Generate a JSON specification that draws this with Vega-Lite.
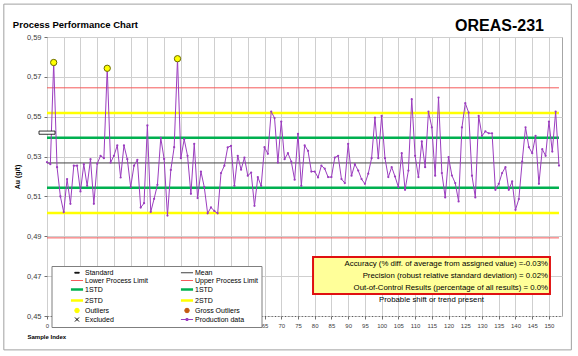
{
  "$schema": "https://vega.github.io/schema/vega-lite/v6.json",
  "width": 515,
  "height": 279,
  "autosize": {"type": "none"},
  "padding": {"left": 47, "top": 37, "right": 16, "bottom": 40},
  "background": "#ffffff",
  "config": {
    "font": "Liberation Sans",
    "view": {"stroke": "#a6a6a6", "strokeWidth": 1},
    "axis": {"grid": true, "gridColor": "#cfcfcf", "tickColor": "#707070", "tickSize": 3, "labelColor": "#404040", "labelPadding": 3, "labelOverlap": false, "labelFlush": false, "titleFontWeight": "bold", "titleColor": "#000000"},
    "axisX": {"labelFontSize": 6, "domainColor": "#555555", "domainDash": [1, 2.346], "titleFontSize": 6, "titleAlign": "left", "titleX": -20, "titleY": 17},
    "axisY": {"labelFontSize": 7.5, "domain": false, "titleFontSize": 7, "titleX": -27}
  },
  "datasets": {
    "samples": [
      {"sample": 0, "au": 0.5272, "status": "In"},
      {"sample": 1, "au": 0.5262, "status": "In"},
      {"sample": 2, "au": 0.5772, "status": "Outlier"},
      {"sample": 3, "au": 0.5247, "status": "In"},
      {"sample": 4, "au": 0.5100, "status": "In"},
      {"sample": 5, "au": 0.5021, "status": "In"},
      {"sample": 6, "au": 0.5187, "status": "In"},
      {"sample": 7, "au": 0.5063, "status": "In"},
      {"sample": 8, "au": 0.5254, "status": "In"},
      {"sample": 9, "au": 0.5254, "status": "In"},
      {"sample": 10, "au": 0.5125, "status": "In"},
      {"sample": 11, "au": 0.5262, "status": "In"},
      {"sample": 12, "au": 0.5153, "status": "In"},
      {"sample": 13, "au": 0.5287, "status": "In"},
      {"sample": 14, "au": 0.5063, "status": "In"},
      {"sample": 15, "au": 0.5264, "status": "In"},
      {"sample": 16, "au": 0.5304, "status": "In"},
      {"sample": 17, "au": 0.5292, "status": "In"},
      {"sample": 18, "au": 0.5743, "status": "Outlier"},
      {"sample": 19, "au": 0.5270, "status": "In"},
      {"sample": 20, "au": 0.5304, "status": "In"},
      {"sample": 21, "au": 0.5356, "status": "In"},
      {"sample": 22, "au": 0.5195, "status": "In"},
      {"sample": 23, "au": 0.5356, "status": "In"},
      {"sample": 24, "au": 0.5287, "status": "In"},
      {"sample": 25, "au": 0.5147, "status": "In"},
      {"sample": 26, "au": 0.5254, "status": "In"},
      {"sample": 27, "au": 0.5284, "status": "In"},
      {"sample": 28, "au": 0.5044, "status": "In"},
      {"sample": 29, "au": 0.5066, "status": "In"},
      {"sample": 30, "au": 0.5456, "status": "In"},
      {"sample": 31, "au": 0.5022, "status": "In"},
      {"sample": 32, "au": 0.5088, "status": "In"},
      {"sample": 33, "au": 0.5158, "status": "In"},
      {"sample": 34, "au": 0.5394, "status": "In"},
      {"sample": 35, "au": 0.5288, "status": "In"},
      {"sample": 36, "au": 0.5004, "status": "In"},
      {"sample": 37, "au": 0.5233, "status": "In"},
      {"sample": 38, "au": 0.5347, "status": "In"},
      {"sample": 39, "au": 0.5791, "status": "Outlier"},
      {"sample": 40, "au": 0.5292, "status": "In"},
      {"sample": 41, "au": 0.5387, "status": "In"},
      {"sample": 42, "au": 0.5304, "status": "In"},
      {"sample": 43, "au": 0.5113, "status": "In"},
      {"sample": 44, "au": 0.5364, "status": "In"},
      {"sample": 45, "au": 0.5092, "status": "In"},
      {"sample": 46, "au": 0.5225, "status": "In"},
      {"sample": 47, "au": 0.5147, "status": "In"},
      {"sample": 48, "au": 0.5015, "status": "In"},
      {"sample": 49, "au": 0.5045, "status": "In"},
      {"sample": 50, "au": 0.5027, "status": "In"},
      {"sample": 51, "au": 0.5015, "status": "In"},
      {"sample": 52, "au": 0.5217, "status": "In"},
      {"sample": 53, "au": 0.5254, "status": "In"},
      {"sample": 54, "au": 0.5346, "status": "In"},
      {"sample": 55, "au": 0.5354, "status": "In"},
      {"sample": 56, "au": 0.5153, "status": "In"},
      {"sample": 57, "au": 0.5304, "status": "In"},
      {"sample": 58, "au": 0.5234, "status": "In"},
      {"sample": 59, "au": 0.5295, "status": "In"},
      {"sample": 60, "au": 0.5204, "status": "In"},
      {"sample": 61, "au": 0.5220, "status": "In"},
      {"sample": 62, "au": 0.5053, "status": "In"},
      {"sample": 63, "au": 0.5197, "status": "In"},
      {"sample": 64, "au": 0.5153, "status": "In"},
      {"sample": 65, "au": 0.5347, "status": "In"},
      {"sample": 66, "au": 0.5314, "status": "In"},
      {"sample": 67, "au": 0.5526, "status": "In"},
      {"sample": 68, "au": 0.5493, "status": "In"},
      {"sample": 69, "au": 0.5270, "status": "In"},
      {"sample": 70, "au": 0.5476, "status": "In"},
      {"sample": 71, "au": 0.5287, "status": "In"},
      {"sample": 72, "au": 0.5317, "status": "In"},
      {"sample": 73, "au": 0.5275, "status": "In"},
      {"sample": 74, "au": 0.5184, "status": "In"},
      {"sample": 75, "au": 0.5414, "status": "In"},
      {"sample": 76, "au": 0.5153, "status": "In"},
      {"sample": 77, "au": 0.5356, "status": "In"},
      {"sample": 78, "au": 0.5329, "status": "In"},
      {"sample": 79, "au": 0.5225, "status": "In"},
      {"sample": 80, "au": 0.5225, "status": "In"},
      {"sample": 81, "au": 0.5195, "status": "In"},
      {"sample": 82, "au": 0.5255, "status": "In"},
      {"sample": 83, "au": 0.5239, "status": "In"},
      {"sample": 84, "au": 0.5197, "status": "In"},
      {"sample": 85, "au": 0.5197, "status": "In"},
      {"sample": 86, "au": 0.5295, "status": "In"},
      {"sample": 87, "au": 0.5304, "status": "In"},
      {"sample": 88, "au": 0.5187, "status": "In"},
      {"sample": 89, "au": 0.5167, "status": "In"},
      {"sample": 90, "au": 0.5364, "status": "In"},
      {"sample": 91, "au": 0.5204, "status": "In"},
      {"sample": 92, "au": 0.5262, "status": "In"},
      {"sample": 93, "au": 0.5230, "status": "In"},
      {"sample": 94, "au": 0.5187, "status": "In"},
      {"sample": 95, "au": 0.5163, "status": "In"},
      {"sample": 96, "au": 0.5214, "status": "In"},
      {"sample": 97, "au": 0.5292, "status": "In"},
      {"sample": 98, "au": 0.5496, "status": "In"},
      {"sample": 99, "au": 0.5292, "status": "In"},
      {"sample": 100, "au": 0.5504, "status": "In"},
      {"sample": 101, "au": 0.5292, "status": "In"},
      {"sample": 102, "au": 0.5197, "status": "In"},
      {"sample": 103, "au": 0.5247, "status": "In"},
      {"sample": 104, "au": 0.5200, "status": "In"},
      {"sample": 105, "au": 0.5147, "status": "In"},
      {"sample": 106, "au": 0.5317, "status": "In"},
      {"sample": 107, "au": 0.5133, "status": "In"},
      {"sample": 108, "au": 0.5230, "status": "In"},
      {"sample": 109, "au": 0.5588, "status": "In"},
      {"sample": 110, "au": 0.5304, "status": "In"},
      {"sample": 111, "au": 0.5197, "status": "In"},
      {"sample": 112, "au": 0.5376, "status": "In"},
      {"sample": 113, "au": 0.5247, "status": "In"},
      {"sample": 114, "au": 0.5526, "status": "In"},
      {"sample": 115, "au": 0.5447, "status": "In"},
      {"sample": 116, "au": 0.5204, "status": "In"},
      {"sample": 117, "au": 0.5596, "status": "In"},
      {"sample": 118, "au": 0.5217, "status": "In"},
      {"sample": 119, "au": 0.5095, "status": "In"},
      {"sample": 120, "au": 0.5297, "status": "In"},
      {"sample": 121, "au": 0.5205, "status": "In"},
      {"sample": 122, "au": 0.5167, "status": "In"},
      {"sample": 123, "au": 0.5075, "status": "In"},
      {"sample": 124, "au": 0.5446, "status": "In"},
      {"sample": 125, "au": 0.5568, "status": "In"},
      {"sample": 126, "au": 0.5521, "status": "In"},
      {"sample": 127, "au": 0.5204, "status": "In"},
      {"sample": 128, "au": 0.5095, "status": "In"},
      {"sample": 129, "au": 0.5504, "status": "In"},
      {"sample": 130, "au": 0.5404, "status": "In"},
      {"sample": 131, "au": 0.5426, "status": "In"},
      {"sample": 132, "au": 0.5417, "status": "In"},
      {"sample": 133, "au": 0.5417, "status": "In"},
      {"sample": 134, "au": 0.5133, "status": "In"},
      {"sample": 135, "au": 0.5163, "status": "In"},
      {"sample": 136, "au": 0.5217, "status": "In"},
      {"sample": 137, "au": 0.5247, "status": "In"},
      {"sample": 138, "au": 0.5133, "status": "In"},
      {"sample": 139, "au": 0.5175, "status": "In"},
      {"sample": 140, "au": 0.5033, "status": "In"},
      {"sample": 141, "au": 0.5087, "status": "In"},
      {"sample": 142, "au": 0.5275, "status": "In"},
      {"sample": 143, "au": 0.5447, "status": "In"},
      {"sample": 144, "au": 0.5347, "status": "In"},
      {"sample": 145, "au": 0.5317, "status": "In"},
      {"sample": 146, "au": 0.5404, "status": "In"},
      {"sample": 147, "au": 0.5163, "status": "In"},
      {"sample": 148, "au": 0.5337, "status": "In"},
      {"sample": 149, "au": 0.5304, "status": "In"},
      {"sample": 150, "au": 0.5476, "status": "In"},
      {"sample": 151, "au": 0.5325, "status": "In"},
      {"sample": 152, "au": 0.5526, "status": "In"},
      {"sample": 153, "au": 0.5255, "status": "In"}
    ],
    "limits": [
      {"series": "Upper Process Limit", "value": 0.5645},
      {"series": "2STD_hi", "value": 0.5519},
      {"series": "1STD_hi", "value": 0.5394},
      {"series": "Mean", "value": 0.5268},
      {"series": "1STD_lo", "value": 0.5143},
      {"series": "2STD_lo", "value": 0.5017},
      {"series": "Lower Process Limit", "value": 0.4892},
      {"series": "Standard", "value": 0.542}
    ]
  },
  "layer": [
    {
      "data": {"name": "limits"},
      "transform": [{"filter": "datum.series !== 'Standard'"}],
      "mark": {"type": "rule"},
      "encoding": {
        "x": {"datum": 0, "type": "quantitative", "scale": {"domain": [0, 153.9], "nice": false, "zero": false},
          "axis": {"values": [0,5,10,15,20,25,30,35,40,45,50,55,60,65,70,75,80,85,90,95,100,105,110,115,120,125,130,135,140,145,150], "format": "d", "title": "Sample Index"}},
        "x2": {"datum": 153},
        "y": {"field": "value", "type": "quantitative", "scale": {"domain": [0.45, 0.59], "nice": false, "zero": false},
          "axis": {"values": [0.45, 0.47, 0.49, 0.51, 0.53, 0.55, 0.57, 0.59], "labelExpr": "replace(format(datum.value, '.2f'), '.', ',')", "title": "Au (g/t)"}},
        "strokeWidth": {
          "field": "series",
          "type": "nominal",
          "scale": {
            "type": "ordinal",
            "domain": ["Standard", "Lower Process Limit", "1STD_lo", "2STD_lo", "Outliers", "Excluded", "Mean", "Upper Process Limit", "1STD_hi", "2STD_hi", "Gross Outliers", "Production data"],
            "range": [0.8, 1, 2.5, 2.5, 1, 1, 1, 1, 2.5, 2.5, 1, 1]
          }
        },
        "color": {
          "field": "series",
          "type": "nominal",
          "scale": {
            "domain": ["Standard", "Lower Process Limit", "1STD_lo", "2STD_lo", "Outliers", "Excluded", "Mean", "Upper Process Limit", "1STD_hi", "2STD_hi", "Gross Outliers", "Production data"],
            "range": ["#000000", "#f55a5a", "#00b050", "#ffff00", "#ffff00", "#000000", "#404040", "#f55a5a", "#00b050", "#ffff00", "#c55a11", "#9b3dbf"]
          },
          "legend": {
            "orient": "none",
            "legendX": 4.5,
            "legendY": 229,
            "columns": 2,
            "title": null,
            "strokeColor": "#7f7f7f",
            "fillColor": "#ffffff",
            "padding": 3,
            "labelFontSize": 7,
            "labelFont": "Liberation Sans",
            "labelColor": "#000000",
            "symbolSize": 20.25,
            "symbolOffset": 19,
            "labelOffset": 4.5,
            "columnPadding": 16,
            "rowPadding": 0,
            "labelExpr": "indexof(datum.label, '_') > 0 ? slice(datum.label, 0, indexof(datum.label, '_')) : datum.label"
          }
        }
      }
    },
    {
      "data": {"name": "samples"},
      "mark": {"type": "line", "strokeWidth": 1, "point": {"filled": true, "size": 5}},
      "encoding": {
        "x": {"field": "sample", "type": "quantitative",
          "axis": {"values": [0,5,10,15,20,25,30,35,40,45,50,55,60,65,70,75,80,85,90,95,100,105,110,115,120,125,130,135,140,145,150], "format": "d", "title": "Sample Index"}},
        "y": {"field": "au", "type": "quantitative",
          "axis": {"values": [0.45, 0.47, 0.49, 0.51, 0.53, 0.55, 0.57, 0.59], "labelExpr": "replace(format(datum.value, '.2f'), '.', ',')", "title": "Au (g/t)"}},
        "color": {"datum": "Production data", "type": "nominal", "legend": null}
      }
    },
    {
      "data": {"name": "samples"},
      "transform": [{"filter": "datum.status === 'Outlier'"}],
      "mark": {"type": "point", "filled": true, "size": 40, "stroke": "#6b6b00", "strokeWidth": 1, "opacity": 1},
      "encoding": {
        "x": {"field": "sample", "type": "quantitative",
          "axis": {"values": [0,5,10,15,20,25,30,35,40,45,50,55,60,65,70,75,80,85,90,95,100,105,110,115,120,125,130,135,140,145,150], "format": "d", "title": "Sample Index"}},
        "y": {"field": "au", "type": "quantitative",
          "axis": {"values": [0.45, 0.47, 0.49, 0.51, 0.53, 0.55, 0.57, 0.59], "labelExpr": "replace(format(datum.value, '.2f'), '.', ',')", "title": "Au (g/t)"}},
        "color": {"datum": "Outliers", "type": "nominal", "legend": null}
      }
    },
    {
      "data": {"name": "limits"},
      "transform": [{"filter": "datum.series === 'Standard'"}],
      "mark": {"type": "point", "size": 256, "filled": true, "fill": "#ffffff", "stroke": "#000000", "strokeWidth": 0.8, "opacity": 1},
      "encoding": {
        "x": {"datum": 0, "type": "quantitative",
          "axis": {"values": [0,5,10,15,20,25,30,35,40,45,50,55,60,65,70,75,80,85,90,95,100,105,110,115,120,125,130,135,140,145,150], "format": "d", "title": "Sample Index"}},
        "y": {"field": "value", "type": "quantitative",
          "axis": {"values": [0.45, 0.47, 0.49, 0.51, 0.53, 0.55, 0.57, 0.59], "labelExpr": "replace(format(datum.value, '.2f'), '.', ',')", "title": "Au (g/t)"}},
        "shape": {
          "field": "series",
          "type": "nominal",
          "scale": {
            "domain": ["Standard", "Lower Process Limit", "1STD_lo", "2STD_lo", "Outliers", "Excluded", "Mean", "Upper Process Limit", "1STD_hi", "2STD_hi", "Gross Outliers", "Production data"],
            "range": ["M-1,-0.2H1V0.2H-1Z", "M-2.7,0H2.7", "M-2.7,0H2.7", "M-2.7,0H2.7", "circle", "M-0.9,-0.9L0.9,0.9M-0.9,0.9L0.9,-0.9", "M-2.7,0H2.7", "M-2.7,0H2.7", "M-2.7,0H2.7", "M-2.7,0H2.7", "circle", "M-2.7,0H2.7M-0.45,-0.45H0.45V0.45H-0.45Z"]
          }
        }
      }
    },
    {
      "data": {"values": [{}]},
      "mark": {"type": "rect", "fill": "#ffff99", "stroke": "#e01010", "strokeWidth": 2},
      "encoding": {
        "x": {"datum": 79.5, "type": "quantitative",
          "axis": {"values": [0,5,10,15,20,25,30,35,40,45,50,55,60,65,70,75,80,85,90,95,100,105,110,115,120,125,130,135,140,145,150], "format": "d", "title": "Sample Index"}},
        "x2": {"datum": 150.3},
        "y": {"datum": 0.4796, "type": "quantitative",
          "axis": {"values": [0.45, 0.47, 0.49, 0.51, 0.53, 0.55, 0.57, 0.59], "labelExpr": "replace(format(datum.value, '.2f'), '.', ',')", "title": "Au (g/t)"}},
        "y2": {"datum": 0.461}
      }
    },
    {
      "data": {"values": [{}]},
      "mark": {"type": "text", "align": "right", "baseline": "middle", "fontSize": 7.8, "lineHeight": 12.2, "font": "Liberation Sans", "color": "#000000"},
      "encoding": {
        "x": {"datum": 149.7, "type": "quantitative",
          "axis": {"values": [0,5,10,15,20,25,30,35,40,45,50,55,60,65,70,75,80,85,90,95,100,105,110,115,120,125,130,135,140,145,150], "format": "d", "title": "Sample Index"}},
        "y": {"datum": 0.4762, "type": "quantitative",
          "axis": {"values": [0.45, 0.47, 0.49, 0.51, 0.53, 0.55, 0.57, 0.59], "labelExpr": "replace(format(datum.value, '.2f'), '.', ',')", "title": "Au (g/t)"}},
        "text": {"value": ["Accuracy (% diff. of average from assigned value) =-0.03%", "Precision (robust relative standard deviation) = 0.02%", "Out-of-Control Results (percentage of all results) = 0.0%"]}
      }
    },
    {
      "data": {"values": [{}]},
      "mark": {"type": "text", "align": "center", "baseline": "middle", "fontSize": 7.8, "font": "Liberation Sans", "color": "#000000"},
      "encoding": {
        "x": {"datum": 114.9, "type": "quantitative",
          "axis": {"values": [0,5,10,15,20,25,30,35,40,45,50,55,60,65,70,75,80,85,90,95,100,105,110,115,120,125,130,135,140,145,150], "format": "d", "title": "Sample Index"}},
        "y": {"datum": 0.4578, "type": "quantitative",
          "axis": {"values": [0.45, 0.47, 0.49, 0.51, 0.53, 0.55, 0.57, 0.59], "labelExpr": "replace(format(datum.value, '.2f'), '.', ',')", "title": "Au (g/t)"}},
        "text": {"value": "Probable shift or trend present"}
      }
    },
    {
      "data": {"values": [{}]},
      "mark": {"type": "text", "align": "right", "baseline": "alphabetic", "fontSize": 16, "fontWeight": "bold", "font": "Liberation Sans", "color": "#000000"},
      "encoding": {
        "x": {"datum": 148.5, "type": "quantitative",
          "axis": {"values": [0,5,10,15,20,25,30,35,40,45,50,55,60,65,70,75,80,85,90,95,100,105,110,115,120,125,130,135,140,145,150], "format": "d", "title": "Sample Index"}},
        "y": {"datum": 0.5932, "type": "quantitative",
          "axis": {"values": [0.45, 0.47, 0.49, 0.51, 0.53, 0.55, 0.57, 0.59], "labelExpr": "replace(format(datum.value, '.2f'), '.', ',')", "title": "Au (g/t)"}},
        "text": {"value": "OREAS-231"}
      }
    },
    {
      "data": {"values": [{}]},
      "mark": {"type": "text", "align": "left", "baseline": "alphabetic", "fontSize": 9.5, "fontWeight": "bold", "font": "Liberation Sans", "color": "#000000"},
      "encoding": {
        "x": {"datum": -10.2, "type": "quantitative",
          "axis": {"values": [0,5,10,15,20,25,30,35,40,45,50,55,60,65,70,75,80,85,90,95,100,105,110,115,120,125,130,135,140,145,150], "format": "d", "title": "Sample Index"}},
        "y": {"datum": 0.5945, "type": "quantitative",
          "axis": {"values": [0.45, 0.47, 0.49, 0.51, 0.53, 0.55, 0.57, 0.59], "labelExpr": "replace(format(datum.value, '.2f'), '.', ',')", "title": "Au (g/t)"}},
        "text": {"value": "Process Performance Chart"}
      }
    },
    {
      "data": {"values": [{}]},
      "mark": {"type": "rect", "fill": null, "fillOpacity": 0, "stroke": "#a0a0a0", "strokeWidth": 1, "clip": false},
      "encoding": {
        "x": {"datum": -12.9, "type": "quantitative",
          "axis": {"values": [0,5,10,15,20,25,30,35,40,45,50,55,60,65,70,75,80,85,90,95,100,105,110,115,120,125,130,135,140,145,150], "format": "d", "title": "Sample Index"}},
        "x2": {"datum": 156.7},
        "y": {"datum": 0.6065, "type": "quantitative",
          "axis": {"values": [0.45, 0.47, 0.49, 0.51, 0.53, 0.55, 0.57, 0.59], "labelExpr": "replace(format(datum.value, '.2f'), '.', ',')", "title": "Au (g/t)"}},
        "y2": {"datum": 0.433}
      }
    }
  ]
}
